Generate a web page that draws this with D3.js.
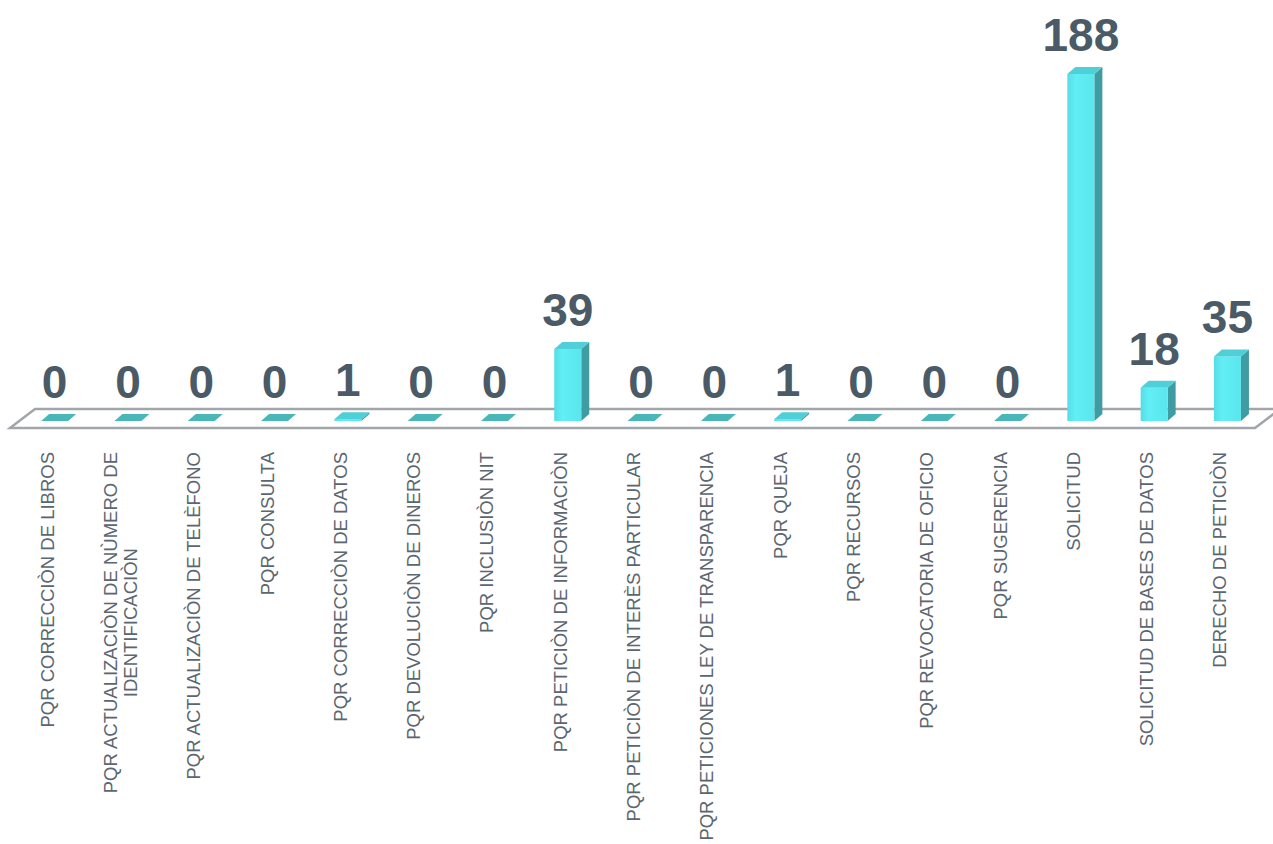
<!DOCTYPE html>
<html>
<head>
<meta charset="utf-8">
<script src="https://cdn.jsdelivr.net/npm/d3@7"></script>
<style>
  body { margin: 0; background: #fff; }
  text { font-family: "Liberation Sans", Arial, sans-serif; }
</style>
</head>
<body>
<div id="chart-area"></div>
<script>
// Data
var categories = [
    "PQR CORRECCIÒN DE LIBROS",
    "PQR ACTUALIZACIÒN DE NÙMERO DE|IDENTIFICACIÒN",
    "PQR ACTUALIZACIÒN DE TELÈFONO",
    "PQR CONSULTA",
    "PQR CORRECCIÒN DE DATOS",
    "PQR DEVOLUCIÒN DE DINEROS",
    "PQR INCLUSIÒN NIT",
    "PQR PETICIÒN DE INFORMACIÒN",
    "PQR PETICIÒN DE INTERÈS PARTICULAR",
    "PQR PETICIONES LEY DE TRANSPARENCIA",
    "PQR QUEJA",
    "PQR RECURSOS",
    "PQR REVOCATORIA DE OFICIO",
    "PQR SUGERENCIA",
    "SOLICITUD",
    "SOLICITUD DE BASES DE DATOS",
    "DERECHO DE PETICIÒN"
];
var values = [0, 0, 0, 0, 1, 0, 0, 39, 0, 0, 1, 0, 0, 0, 188, 18, 35];

var width = 1273, height = 844;

var svg = d3.select("#chart-area")
    .append("svg")
    .attr("width", width)
    .attr("height", height);

// gradients
var defs = svg.append("defs");
var gFront = defs.append("linearGradient").attr("id", "front")
    .attr("x1", "0").attr("x2", "1").attr("y1", "0").attr("y2", "0");
gFront.append("stop").attr("offset", "0%").attr("stop-color", "#55dde6");
gFront.append("stop").attr("offset", "30%").attr("stop-color", "#62eef5");
gFront.append("stop").attr("offset", "100%").attr("stop-color", "#5be6ee");

// Scales
var x = d3.scaleBand()
    .domain(d3.range(categories.length))
    .range([21.5, 21.5 + 73.3 * categories.length])
    .padding(0);
var y = d3.scaleLinear()
    .domain([0, 188])
    .range([421, 74]);

var barW = 27, dx = 8, dy = -7;

// Floor (3D plane)
var floorFront = 428, floorBack = 409, floorShift = 25;
var fx0 = 10, fx1 = 1255;
svg.append("path")
    .attr("d", "M" + fx0 + "," + floorFront +
        "L" + fx1 + "," + floorFront +
        "L" + (fx1 + floorShift) + "," + floorBack +
        "L" + (fx0 + floorShift) + "," + floorBack + "Z")
    .attr("fill", "none")
    .attr("stroke", "#a2a6aa")
    .attr("stroke-width", 2.5);

// Bars
var bars = svg.selectAll(".bar")
    .data(values)
    .enter().append("g")
    .attr("class", "bar");

bars.each(function(d, i) {
    var g = d3.select(this);
    var cx = x(i) + x.bandwidth() / 2;
    var x0 = cx - 17, x1 = x0 + barW;
    var yb = y(0), yt = y(d);
    if (d === 0) {
        g.append("path")
            .attr("d", "M" + x0 + "," + yb + "L" + x1 + "," + yb +
                "L" + (x1 + dx) + "," + (yb + dy) + "L" + (x0 + dx) + "," + (yb + dy) + "Z")
            .attr("fill", "#49b6b8");
        return;
    }
    // side
    g.append("path")
        .attr("d", "M" + x1 + "," + yb + "L" + x1 + "," + yt +
            "L" + (x1 + dx) + "," + (yt + dy) + "L" + (x1 + dx) + "," + (yb + dy) + "Z")
        .attr("fill", "#3e9ca2");
    // front
    g.append("rect")
        .attr("x", x0).attr("y", yt)
        .attr("width", barW).attr("height", yb - yt)
        .attr("fill", "url(#front)");
    // top
    g.append("path")
        .attr("d", "M" + x0 + "," + yt + "L" + x1 + "," + yt +
            "L" + (x1 + dx) + "," + (yt + dy) + "L" + (x0 + dx) + "," + (yt + dy) + "Z")
        .attr("fill", "#4fcfd7");
});

// Value labels
svg.selectAll(".value")
    .data(values)
    .enter().append("text")
    .attr("class", "value")
    .attr("x", function(d, i) { return x(i) + x.bandwidth() / 2 - 3.5; })
    .attr("y", function(d) { return y(d) - 23; })
    .attr("text-anchor", "middle")
    .attr("font-size", "46px")
    .attr("font-weight", "bold")
    .attr("fill", "#4a5a66")
    .text(function(d) { return d; });

// Category labels (rotated)
var labelTop = 452;
categories.forEach(function(c, i) {
    var lines = c.split("|");
    var cx = x(i) + x.bandwidth() / 2 - 11;
    var lineH = 20;
    var off = -(lines.length - 1) * lineH / 2;
    var t = svg.append("text")
        .attr("class", "cat")
        .attr("transform", "translate(" + (cx + off) + "," + labelTop + ") rotate(-90)")
        .attr("font-size", "18.5px")
        .attr("fill", "#5a6670")
        .attr("dy", "0.35em")
        .attr("text-anchor", "end")
        .text(lines[0]);
    if (lines.length > 1) {
        var len = t.node().getComputedTextLength();
        svg.append("text")
            .attr("class", "cat")
            .attr("transform", "translate(" + (cx + off + lineH) + "," + (labelTop + len / 2) + ") rotate(-90)")
            .attr("font-size", "18.5px")
            .attr("fill", "#5a6670")
            .attr("dy", "0.35em")
            .attr("text-anchor", "middle")
            .text(lines[1]);
    }
});
</script>
</body>
</html>
